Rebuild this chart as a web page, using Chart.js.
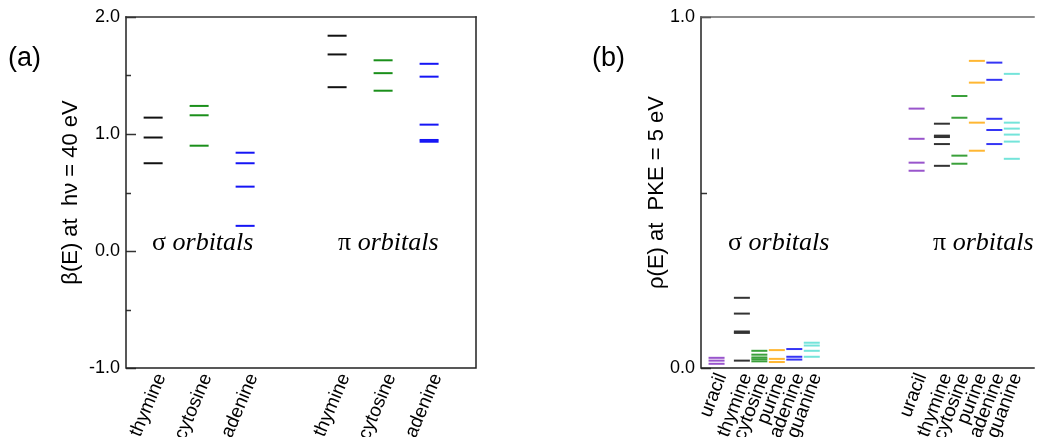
<!DOCTYPE html>
<html><head><meta charset="utf-8">
<script src="https://cdn.jsdelivr.net/npm/chart.js@4"></script>
<style>
html,body{margin:0;padding:0;background:#fff;width:1044px;height:437px;overflow:hidden}
#wrapA{position:absolute;left:0;top:0;width:520px;height:437px}
#wrapB{position:absolute;left:520px;top:0;width:524px;height:437px}
.lbl{position:absolute;font-family:"Liberation Sans",Arial,sans-serif;font-size:27px;line-height:1;color:#000;white-space:nowrap}
.orb{position:absolute;font-family:"Liberation Serif","Times New Roman",serif;font-size:26px;line-height:1;color:#000;white-space:nowrap}
.orb i{font-style:italic}
</style></head><body>
<div id="wrapA"><canvas id="cA" width="520" height="437"></canvas></div>
<div id="wrapB"><canvas id="cB" width="524" height="437"></canvas></div>
<div class="lbl" style="left:8px;top:44px">(a)</div>
<div class="lbl" style="left:592px;top:44px">(b)</div>
<div class="orb" style="left:152px;top:229px">σ <i>orbitals</i></div>
<div class="orb" style="left:338px;top:229px">π <i>orbitals</i></div>
<div class="orb" style="left:728px;top:229px">σ <i>orbitals</i></div>
<div class="orb" style="left:933px;top:229px">π <i>orbitals</i></div>
<script>
// ---------- Panel (a) data: beta(E) at hv = 40 eV ----------
const catsA = ['thymine', 'cytosine', 'adenine'];
const sigmaA_thymine  = [1.14, 0.97, 0.75];
const sigmaA_cytosine = [1.24, 1.16, 0.90];
const sigmaA_adenine  = [0.84, 0.75, 0.55, 0.215];
const piA_thymine     = [1.84, 1.68, 1.40];
const piA_cytosine    = [1.63, 1.52, 1.37];
const piA_adenine     = [1.60, 1.49, 1.08, 0.949, 0.934];
const yTicksA = [-1.0, -0.5, 0.0, 0.5, 1.0, 1.5, 2.0];

// ---------- Panel (b) data: rho(E) at PKE = 5 eV ----------
const catsB = ['uracil', 'thymine', 'cytosine', 'purine', 'adenine', 'guanine'];
const sigmaB_uracil   = [0.029, 0.021, 0.012];
const sigmaB_thymine  = [0.200, 0.155, 0.104, 0.100, 0.021];
const sigmaB_cytosine = [0.049, 0.038, 0.030, 0.025, 0.019];
const sigmaB_purine   = [0.051, 0.026, 0.017];
const sigmaB_adenine  = [0.054, 0.032, 0.024];
const sigmaB_guanine  = [0.072, 0.064, 0.049, 0.032];
const piB_uracil      = [0.739, 0.653, 0.585, 0.562];
const piB_thymine     = [0.696, 0.662, 0.658, 0.638, 0.576];
const piB_cytosine    = [0.775, 0.713, 0.605, 0.582];
const piB_purine      = [0.875, 0.813, 0.699, 0.619];
const piB_adenine     = [0.870, 0.821, 0.710, 0.678, 0.638];
const piB_guanine     = [0.838, 0.699, 0.682, 0.665, 0.645, 0.596];
const yTicksB = [0.0, 0.5, 1.0];

// ---------- styles / layout ----------
const colorsA = ['#111111', '#1a8f1a', '#1515f5'];
const colorsB = ['#9955cc', '#333333', '#3aa03a', '#ffb733', '#3535f5', '#74e4da'];
const slotsA = [0, 1, 2];             // within a group
const groupOffsetA = 4;
const slotsB = [0, 1.45, 2.45, 3.45, 4.45, 5.45];
const groupOffsetB = 11.45;

const sigmaA = [sigmaA_thymine, sigmaA_cytosine, sigmaA_adenine];
const piA = [piA_thymine, piA_cytosine, piA_adenine];
const sigmaB = [sigmaB_uracil, sigmaB_thymine, sigmaB_cytosine, sigmaB_purine, sigmaB_adenine, sigmaB_guanine];
const piB = [piB_uracil, piB_thymine, piB_cytosine, piB_purine, piB_adenine, piB_guanine];

function makeDatasets(groups, slots, offset, colors, radius) {
  const ds = [];
  groups.forEach((group, g) => {
    group.forEach((vals, i) => {
      ds.push({
        data: vals.map(v => ({x: slots[i] + g * offset, y: v})),
        pointStyle: 'line', pointRadius: radius, pointHoverRadius: radius,
        borderColor: colors[i], backgroundColor: colors[i],
        pointBorderWidth: 2, pointHoverBorderWidth: 2, showLine: false
      });
    });
  });
  return ds;
}

const framePlugin = {
  id: 'frame',
  afterDatasetsDraw(chart, args, opts) {
    const {ctx, chartArea: a} = chart;
    const ys = chart.scales.y;
    ctx.save();
    ctx.strokeStyle = '#333'; ctx.lineWidth = 1.5;
    ys.ticks.forEach(t => {
      const py = Math.round(ys.getPixelForValue(t.value)) + 0.5;
      const len = Number.isInteger(Math.round(t.value * 1000) / 1000) ? opts.major : opts.minor;
      ctx.beginPath(); ctx.moveTo(a.left, py); ctx.lineTo(a.left + len, py); ctx.stroke();
    });
    ctx.lineCap = 'square';
    ctx.strokeStyle = opts.color; ctx.lineWidth = 1.5;
    const L = a.left, R = a.right, T = a.top, B = a.bottom;
    ctx.beginPath(); ctx.moveTo(L, T); ctx.lineTo(L, B); ctx.lineTo(R, B);
    if (opts.right) ctx.lineTo(R, T);
    ctx.stroke();
    ctx.strokeStyle = opts.topColor;
    ctx.beginPath(); ctx.moveTo(L, T); ctx.lineTo(R, T); ctx.stroke();
    ctx.restore();
  }
};

const tickFont = {family: '"Liberation Sans", Arial, sans-serif', size: 18};
const xFont = {family: '"Liberation Sans", Arial, sans-serif', size: 19};
const titleFont = {family: '"Liberation Sans", Arial, sans-serif', size: 22};

function buildChart(canvas, cfg) {
  return new Chart(canvas, {
    type: 'scatter',
    data: {datasets: cfg.datasets},
    plugins: [framePlugin],
    options: {
      responsive: false, animation: false, events: [],
      layout: {padding: {left: cfg.padLeft, right: cfg.padRight, top: 17, bottom: 0}},
      plugins: {legend: {display: false}, tooltip: {enabled: false},
        frame: {major: 10, minor: cfg.minorLen, right: cfg.rightBorder, color: '#222', topColor: cfg.topColor}},
      scales: {
        x: {
          type: 'linear', min: cfg.xMin, max: cfg.xMax,
          afterBuildTicks: s => { s.ticks = cfg.xPos.map(v => ({value: v})); },
          afterFit: s => { s.height = 69; },
          grid: {display: false, drawTicks: false},
          border: {display: false},
          ticks: {autoSkip: false, minRotation: cfg.rot, maxRotation: cfg.rot, padding: 2, labelOffset: cfg.labelOffset,
                  color: '#000', font: xFont, callback: (v, i) => cfg.xLabels[i]}
        },
        y: {
          min: cfg.yMin, max: cfg.yMax,
          afterBuildTicks: s => { s.ticks = cfg.yTicks.map(v => ({value: v})); },
          afterFit: s => { s.width = cfg.yWidth; },
          grid: {display: false, drawTicks: false},
          border: {display: false},
          ticks: {padding: 6, color: '#000', font: tickFont,
                  callback: v => (Math.abs(v - Math.round(v)) < 1e-9 ? v.toFixed(1) : '')},
          title: {display: true, text: cfg.yTitle, color: '#000', font: titleFont, padding: {top: 0, bottom: 0}}
        }
      }
    }
  });
}

const xPosA = [], xLabA = [];
[0, 1].forEach(g => catsA.forEach((c, i) => { xPosA.push(slotsA[i] + g * groupOffsetA); xLabA.push(c); }));
const xPosB = [], xLabB = [];
[0, 1].forEach(g => catsB.forEach((c, i) => { xPosB.push(slotsB[i] + g * groupOffsetB); xLabB.push(c); }));

buildChart(document.getElementById('cA'), {
  datasets: makeDatasets([sigmaA, piA], slotsA, groupOffsetA, colorsA, 9.5),
  padLeft: 57.4, padRight: 44, yWidth: 68.6,
  xMin: -0.59, xMax: 7.02, xPos: xPosA, xLabels: xLabA, rot: 67, labelOffset: 8,
  yMin: -1, yMax: 2, yTicks: yTicksA, minorLen: 5, rightBorder: true, topColor: '#333',
  yTitle: 'β(E) at  hν = 40 eV'
});
buildChart(document.getElementById('cB'), {
  datasets: makeDatasets([sigmaB, piB], slotsB, groupOffsetB, colorsB, 8),
  padLeft: 124, padRight: 0, yWidth: 57,
  xMin: -0.89, xMax: 18.17, xPos: xPosB, xLabels: xLabB, rot: 69, labelOffset: 5,
  yMin: 0, yMax: 1, yTicks: yTicksB, minorLen: 6, rightBorder: false, topColor: '#666',
  yTitle: 'ρ(E) at  PKE = 5 eV'
});
</script>
</body></html>
